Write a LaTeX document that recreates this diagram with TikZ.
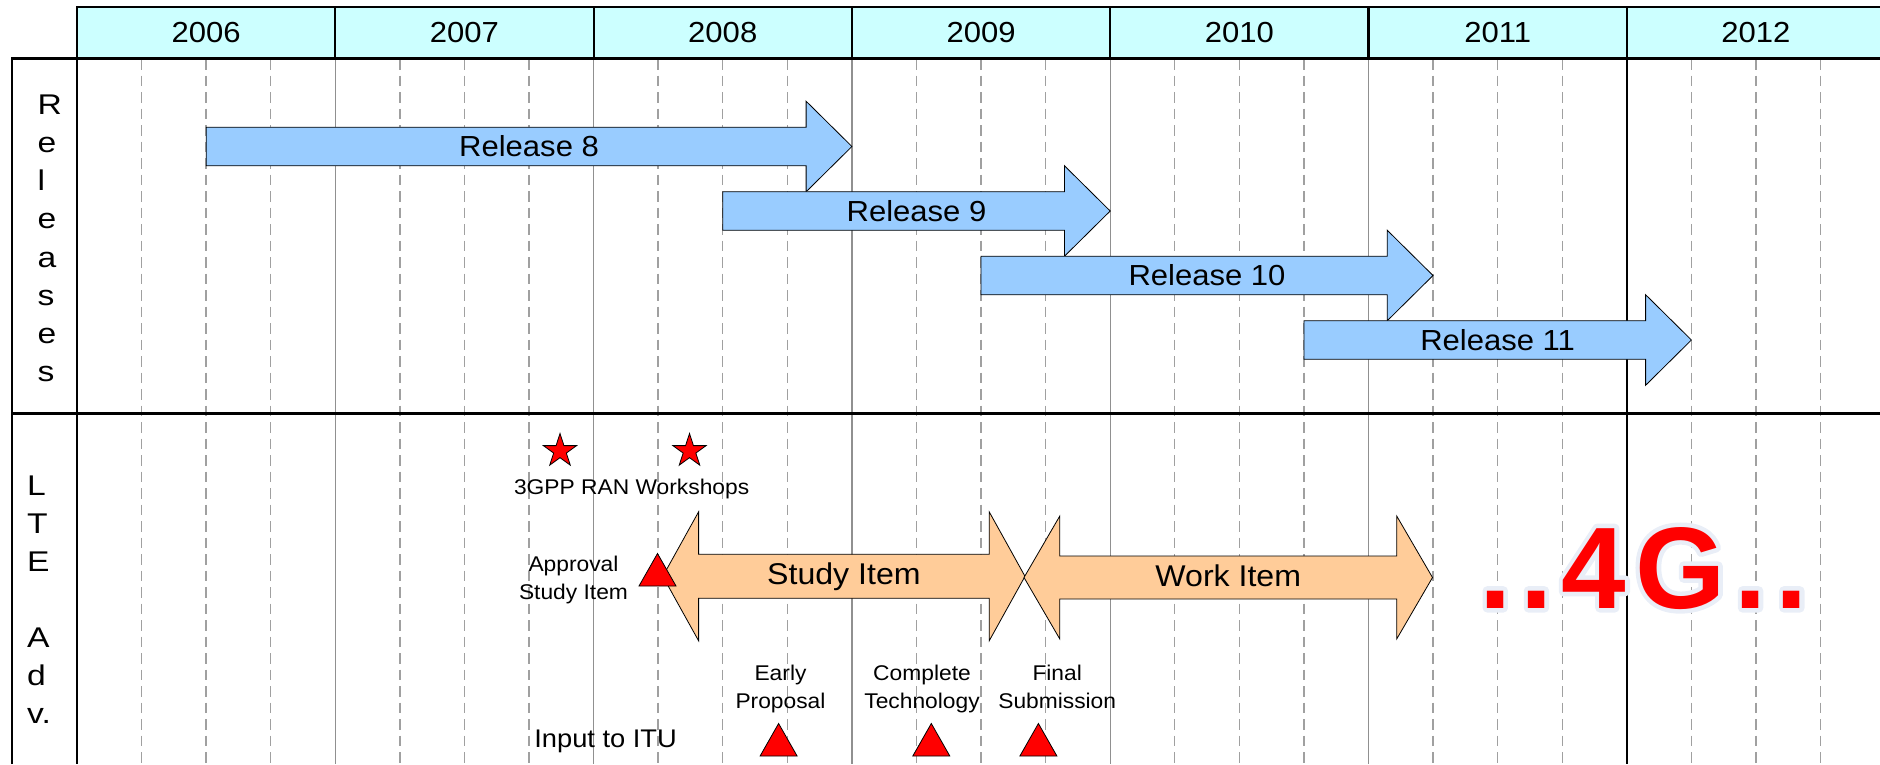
\documentclass[tikz,border=0pt]{standalone}
\usepackage{fontspec}
\setmainfont{Liberation Sans}[FakeStretch=1.07]
\newfontfamily\sidefont{Liberation Sans}[FakeStretch=1.18]
\newfontfamily\bigfont{Liberation Sans}[LetterSpace=7.8]
\usetikzlibrary{shapes.geometric}

\definecolor{hdrcyan}{HTML}{CCFFFF}
\definecolor{relblue}{HTML}{99CCFF}
\definecolor{itempeach}{HTML}{FFCC99}
\definecolor{gridgray}{HTML}{A0A0A0}
\definecolor{glowblue}{HTML}{E9EEF7}

% release arrow: start x, tip x, centre y, label, name
\newcommand\relarrow[5]{%
  \draw[relshape] (#1,#3-19.3) -- (#2-45.8,#3-19.3) -- (#2-45.8,#3-45.3) -- (#2,#3)
    -- (#2-45.8,#3+45.3) -- (#2-45.8,#3+19.3) -- (#1,#3+19.3) -- cycle;
  \node[rellbl] (#5) at ({(#1+#2)/2},#3+10) {#4};
}
% two-headed arrow: left tip, right tip, centre y, head half height, body half height, label, name
\newcommand\dblarrow[7]{%
  \draw[itemshape] (#1,#3) -- (#1+35.8,#3-#4) -- (#1+35.8,#3-#5) -- (#2-35.8,#3-#5)
    -- (#2-35.8,#3-#4) -- (#2,#3) -- (#2-35.8,#3+#4) -- (#2-35.8,#3+#5)
    -- (#1+35.8,#3+#5) -- (#1+35.8,#3+#4) -- cycle;
  \node[itemlbl] (#7) at ({(#1+#2)/2},#3+8.5) {#6};
}
% red milestone triangle: apex x, base y
\newcommand\milestone[2]{%
  \draw[mstone] (#1,#2-32.5) -- (#1+18.5,#2) -- (#1-18.5,#2) -- cycle;
}
% outlined text, used for the soft halo behind the big label
\newcommand\halotext[1]{\special{pdf:literal direct 2 Tr 9 w 1 j}#1\special{pdf:literal direct 0 Tr}}

\begin{document}
\begin{tikzpicture}[x=1pt,y=-1pt,
  frame/.style={draw=black,line width=2.2pt},
  yearline/.style={draw=gridgray!90!black,line width=1.4pt},
  quarter/.style={draw=gridgray,line width=1.4pt,dash pattern=on 10.5pt off 6pt},
  yearlbl/.style={anchor=base,inner sep=0pt,font=\fontsize{29}{34}\selectfont},
  sidelbl/.style={anchor=base west,inner sep=0pt,font=\sidefont\fontsize{28.5}{34}\selectfont},
  relshape/.style={fill=relblue,draw=black,line width=0.8pt,line join=miter},
  rellbl/.style={anchor=base,inner sep=0pt,font=\fontsize{29}{34}\selectfont},
  itemshape/.style={fill=itempeach,draw=black,line width=0.8pt,line join=miter},
  itemlbl/.style={anchor=base,inner sep=0pt,font=\fontsize{30}{36}\selectfont},
  smalllbl/.style={anchor=base,inner sep=0pt,align=center,font=\fontsize{21.3}{27.5}\selectfont},
  mstone/.style={fill=red,draw=black,line width=0.8pt},
  starmark/.style={star,star points=5,star point ratio=2.618,minimum size=35pt,
    inner sep=0pt,fill=red,draw=black,line width=0.8pt},
  bigtxt/.style={anchor=base west,inner sep=0pt,font=\bigfont\bfseries\fontsize{116}{130}\selectfont}
]
\useasboundingbox (0,0) rectangle (1880,764);
\clip (0,0) rectangle (1880,764);

% quarter-year grid
\foreach \k in {1,...,28} {
  \pgfmathtruncatemacro\r{mod(\k,4)}
  \ifnum\r=0\relax\else
    \draw[quarter] ({77+64.575*\k},59) -- ({77+64.575*\k},764);
  \fi
}
% year boundaries in the body
\foreach \k in {1,...,5} \draw[yearline] ({77+258.3*\k},59) -- ({77+258.3*\k},764);
\draw[black,line width=1.4pt] (1626.8,59) -- (1626.8,764);

% header band with the years
\fill[hdrcyan] (77,7) rectangle (1885,58.5);
\foreach \k in {1,...,7} \draw[frame] ({77+258.3*\k},7) -- ({77+258.3*\k},58.5);
\draw[frame] (1885,7) -- (77,7) -- (77,764);
\draw[frame] (12,764) -- (12,58.5) -- (1885,58.5);
\draw[frame] (12,413.5) -- (1885,413.5);
\foreach \yr [count=\i from 0] in {2006,...,2012}
  \node[yearlbl] (y\yr) at ({77+258.3*(\i+0.5)},42) {\yr};

% row titles
\foreach \c [count=\i from 0] in {R,e,l,e,a,s,e,s}
  \node[sidelbl] (rel\i) at (37.5,{114.5+38.14*\i}) {\c};
\foreach \c [count=\i from 0] in {L,T,E}
  \node[sidelbl] (lte\i) at (27,{495+38.05*\i}) {\c};
\foreach \c [count=\i from 4] in {A,d,v.}
  \node[sidelbl] (adv\i) at (27,{495+38.05*\i}) {\c};

% releases
\relarrow{206.2}{851.9}{146.5}{Release 8}{r8}
\relarrow{722.8}{1110.2}{211}{Release 9}{r9}
\relarrow{981}{1433}{275.5}{Release 10}{r10}
\relarrow{1303.9}{1691.4}{340}{Release 11}{r11}

% LTE Advanced
\node[starmark] (ws1) at (560,451) {};
\node[starmark] (ws2) at (689.5,451) {};
\node[smalllbl] (wslbl) at (631.6,494) {3GPP RAN Workshops};

\dblarrow{662.8}{1025}{576.3}{64.5}{22}{Study Item}{study}
\dblarrow{1024}{1432.5}{577.5}{61.5}{21.5}{Work Item}{work}

\milestone{657.5}{586}
\node[smalllbl] (appr) at (573.5,599) {Approval\\Study Item};

\milestone{778.6}{756}
\milestone{931.3}{756}
\milestone{1038.4}{756}
\node[smalllbl] (early) at (780.5,708.3) {Early\\Proposal};
\node[smalllbl] (compl) at (922,708.3) {Complete\\Technology};
\node[smalllbl] (final) at (1057.2,708.3) {Final\\Submission};
\node[anchor=base,inner sep=0pt,font=\fontsize{25.5}{30}\selectfont] (itu) at (605.6,747.3) {Input to ITU};

% ..4G.. with a soft halo
\node[bigtxt,text=glowblue] (halo) at (1479,608) {\halotext{..4G..}};
\node[bigtxt,text=red] (fourg) at (1479,608) {..4G..};
\end{tikzpicture}
\end{document}
